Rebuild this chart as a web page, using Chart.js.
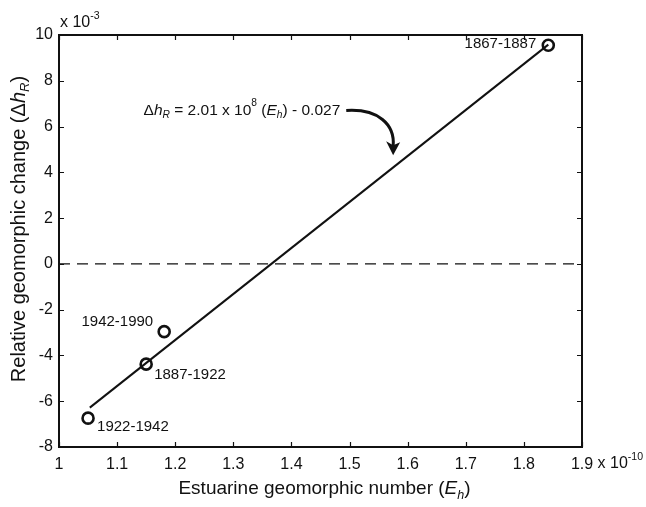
<!DOCTYPE html>
<html><head><meta charset="utf-8">
<script src="https://cdn.jsdelivr.net/npm/chart.js@4"></script>
<style>html,body{margin:0;padding:0;background:#fff;}</style>
</head><body>
<canvas id="c" width="646" height="507"></canvas>
<script>
// ---- data ----
const periods  = ['1867-1887', '1887-1922', '1922-1942', '1942-1990'];
const ehValues = [1.842, 1.150, 1.050, 1.181];   // Estuarine geomorphic number, x 10^-10
const dhValues = [9.55, -4.38, -6.74, -2.96];    // Relative geomorphic change, x 10^-3
const fitEh = [1.053, 1.842];                    // regression line ends
const fitDh = [-6.28, 9.58];
const zeroEh = [1.0, 1.9];
const zeroDh = [0, 0];
const xTicks = [1, 1.1, 1.2, 1.3, 1.4, 1.5, 1.6, 1.7, 1.8, 1.9];
const yTicks = [-8, -6, -4, -2, 0, 2, 4, 6, 8, 10];
const eqAnchor = {x: 1.484, y: 6.7};             // right end of equation text
const arrowTip = {x: 1.575, y: 4.75};

// ---- styles / placement ----
const FONT = '"Liberation Sans", Arial, Helvetica, sans-serif';
const INK = '#111';
const TICK_FS = 16, LABEL_FS = 15, XTITLE_FS = 19, YTITLE_FS = 20, EQ_FS = 15.5;
const labelPlace = {
  '1867-1887': {align: 'right', dx: -12, dy: -1},
  '1887-1922': {align: 'left',  dx: 8,   dy: 11},
  '1922-1942': {align: 'left',  dx: 9,   dy: 9},
  '1942-1990': {align: 'right', dx: -11, dy: -10}
};

function rich(ctx, segs, x, y, align, size) {
  const parts = segs.map(s => {
    const fs = (s.sub || s.sup) ? size * 0.66 : size;
    const f = (s.it ? 'italic ' : '') + fs + 'px ' + FONT;
    ctx.font = f;
    return {s, f, w: ctx.measureText(s.t).width};
  });
  const total = parts.reduce((a, p) => a + p.w, 0);
  let cx = align === 'center' ? x - total / 2 : (align === 'right' ? x - total : x);
  ctx.textAlign = 'left';
  ctx.textBaseline = 'middle';
  for (const p of parts) {
    ctx.font = p.f;
    let dy = 0;
    if (p.s.sub) dy = size * 0.32;
    if (p.s.sup) dy = -size * 0.45;
    ctx.fillText(p.s.t, cx, y + dy);
    cx += p.w;
  }
  return total;
}

const decor = {
  id: 'decor',
  afterDraw(chart) {
    const {ctx, chartArea: a, scales: {x, y}} = chart;
    ctx.save();
    ctx.fillStyle = INK; ctx.strokeStyle = INK;
    // frame
    ctx.lineWidth = 2;
    ctx.strokeRect(a.left, a.top, a.right - a.left, a.bottom - a.top);
    // inward ticks
    ctx.lineWidth = 1.2;
    const TL = 5;
    ctx.beginPath();
    xTicks.forEach(v => {
      const px = Math.round(x.getPixelForValue(v)) + 0.5;
      ctx.moveTo(px, a.bottom); ctx.lineTo(px, a.bottom - TL);
      ctx.moveTo(px, a.top); ctx.lineTo(px, a.top + TL);
    });
    yTicks.forEach(v => {
      const py = Math.round(y.getPixelForValue(v)) + 0.5;
      ctx.moveTo(a.left, py); ctx.lineTo(a.left + TL, py);
      ctx.moveTo(a.right, py); ctx.lineTo(a.right - TL, py);
    });
    ctx.stroke();

    // exponent labels
    rich(ctx, [{t: 'x 10'}, {t: '-3', sup: true}], a.left + 1, a.top - 12, 'left', TICK_FS);
    const x19 = x.getPixelForValue(1.9);
    ctx.font = TICK_FS + 'px ' + FONT;
    const w19 = ctx.measureText('1.9').width;
    rich(ctx, [{t: ' x 10'}, {t: '-10', sup: true}], x19 + w19 / 2, a.bottom + 17, 'left', TICK_FS);

    // axis titles
    rich(ctx, [{t: 'Estuarine geomorphic number ('}, {t: 'E', it: true}, {t: 'h', it: true, sub: true}, {t: ')'}],
         (a.left + a.right) / 2 + 4, 489, 'center', XTITLE_FS);
    ctx.save();
    ctx.translate(19, (a.top + a.bottom) / 2 - 12);
    ctx.rotate(-Math.PI / 2);
    rich(ctx, [{t: 'Relative geomorphic change (\u0394'}, {t: 'h', it: true}, {t: 'R', it: true, sub: true}, {t: ')'}],
         0, 0, 'center', YTITLE_FS);
    ctx.restore();

    // point labels
    const meta = chart.getDatasetMeta(0);
    meta.data.forEach((pt, i) => {
      const pl = labelPlace[periods[i]];
      ctx.font = LABEL_FS + 'px ' + FONT;
      ctx.textAlign = pl.align; ctx.textBaseline = 'middle';
      ctx.fillText(periods[i], pt.x + pl.dx, pt.y + pl.dy);
    });

    // equation + arrow
    const ex = x.getPixelForValue(eqAnchor.x), ey = y.getPixelForValue(eqAnchor.y);
    rich(ctx, [{t: '\u0394'}, {t: 'h', it: true}, {t: 'R', it: true, sub: true}, {t: ' = 2.01 x 10'},
               {t: '8', sup: true}, {t: ' ('}, {t: 'E', it: true}, {t: 'h', it: true, sub: true}, {t: ') - 0.027'}],
         ex, ey, 'right', EQ_FS);
    const tx = x.getPixelForValue(arrowTip.x), ty = y.getPixelForValue(arrowTip.y);
    ctx.lineWidth = 3;
    ctx.beginPath();
    ctx.moveTo(ex + 6, ey);
    ctx.bezierCurveTo(ex + 38, ey - 2, tx + 2, ey + 14, tx, ty - 9);
    ctx.stroke();
    ctx.beginPath();
    ctx.moveTo(tx, ty);
    ctx.lineTo(tx - 7, ty - 14);
    ctx.lineTo(tx, ty - 10);
    ctx.lineTo(tx + 7, ty - 13);
    ctx.closePath();
    ctx.fill();
    ctx.restore();
  }
};

new Chart(document.getElementById('c'), {
  type: 'scatter',
  data: {
    datasets: [
      {
        label: 'Periods',
        data: ehValues.map((v, i) => ({x: v, y: dhValues[i]})),
        pointRadius: 5.5, pointBorderWidth: 2.6, pointBorderColor: INK,
        pointBackgroundColor: 'rgba(255,255,255,0)', showLine: false, order: 0
      },
      {
        label: 'Fit',
        data: fitEh.map((v, i) => ({x: v, y: fitDh[i]})),
        showLine: true, borderColor: INK, borderWidth: 2, pointRadius: 0, order: 1
      },
      {
        label: 'Zero',
        data: zeroEh.map((v, i) => ({x: v, y: zeroDh[i]})),
        showLine: true, borderColor: INK, borderWidth: 1.3, borderDash: [11, 7],
        pointRadius: 0, order: 2
      }
    ]
  },
  options: {
    responsive: false,
    animation: false,
    devicePixelRatio: 1,
    layout: {padding: {left: 0, right: 64, top: 35, bottom: 0}},
    plugins: {legend: {display: false}, tooltip: {enabled: false}},
    scales: {
      x: {
        type: 'linear', min: 1, max: 1.9,
        grid: {display: false, drawTicks: false},
        border: {display: false},
        afterBuildTicks: s => { s.ticks = xTicks.map(v => ({value: v})); },
        afterFit: s => { s.height = 60; },
        ticks: {padding: 8, color: INK, font: {family: FONT, size: TICK_FS}, maxRotation: 0,
                callback: v => String(v)}
      },
      y: {
        type: 'linear', min: -8, max: 10,
        grid: {display: false, drawTicks: false},
        border: {display: false},
        afterBuildTicks: s => { s.ticks = yTicks.map(v => ({value: v})); },
        afterFit: s => { s.width = 59; },
        ticks: {padding: 6, color: INK, font: {family: FONT, size: TICK_FS}, callback: v => String(v)}
      }
    }
  },
  plugins: [decor]
});
</script>
</body></html>
